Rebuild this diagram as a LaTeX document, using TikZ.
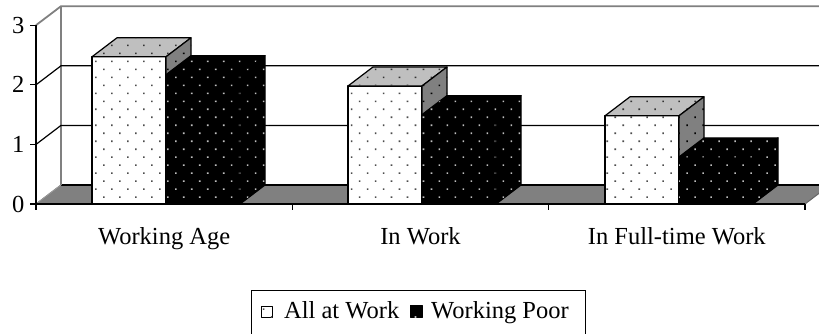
\documentclass[tikz,border=0pt]{standalone}
\usepackage{fontspec}
\setmainfont{Liberation Serif}
\usetikzlibrary{patterns.meta}

\newcommand{\unitv}{59.6}
\newcommand{\barw}{74}
% one 3d bar: x, value, front, top, side
\newcommand{\barbox}[5]{%
  \filldraw[#3] (#1,0) rectangle ++(\barw,#2*\unitv);
  \filldraw[#4] (#1,#2*\unitv) -- ++(\barw,0) -- ++(25,19) -- ++(-\barw,0) -- cycle;
  \filldraw[#5] (#1+\barw,0) -- ++(25,19) -- ++(0,#2*\unitv) -- ++(-25,-19) -- cycle;
}

\tikzset{
  dotsfill/.style={postaction={pattern={Dots[distance=11.3pt,angle=45,radius=1.1pt]},pattern color=#1}},
  face/.style={draw=black,line width=1.2pt,line join=round},
  awfront/.style={face,fill=white,dotsfill=black!70},
  awtop/.style={face,fill=black!25,dotsfill=black!80},
  awside/.style={face,fill=black!50,dotsfill=black},
  wpface/.style={face,fill=black,dotsfill=black!25},
  axisline/.style={line width=1.2pt},
  gridline/.style={line width=1.2pt},
}

\begin{document}
\begin{tikzpicture}[x=1pt,y=1pt,font=\fontsize{24.5}{28}\selectfont]
  \useasboundingbox (-36,-129) rectangle (783,204);
  \clip (-36,-129) rectangle (783,204);

  % Floor
  \filldraw[fill=black!50,draw=black!60,line width=1pt] (0,0) -- (769,0) -- (794,19) -- (25,19) -- cycle;
  \draw[gridline] (25,19) -- (800,19);
  \draw[black!40,line width=1pt] (0,0) -- (25,19);

  % Walls and grid lines
  \draw[gray,line width=1.5pt] (25,19) -- (25,3*\unitv+19);
  \foreach \v in {1,2} {
    \draw[gridline] (0,\v*\unitv) -- (25,\v*\unitv+19) -- (800,\v*\unitv+19);
  }
  \draw[gray,line width=1.8pt] (0,3*\unitv) -- (25,3*\unitv+19) -- (800,3*\unitv+19);

  % All at Work
  \foreach \x/\v in {56/2.47, 312/1.98, 569/1.48} {
    \barbox{\x}{\v}{awfront}{awtop}{awside}
  }
  % Working Poor
  \foreach \x/\v in {130/2.17, 386/1.50, 643/0.79} {
    \barbox{\x}{\v}{wpface}{wpface}{wpface}
  }

  % Axes and ticks
  \draw[axisline] (0,0) -- (0,3*\unitv);
  \foreach \v in {0,...,3} {
    \draw[axisline] (0,\v*\unitv) -- (-6,\v*\unitv) node[left=5pt,inner sep=0pt] (y\v) {\v};
  }
  \draw[axisline] (0,0) -- (769,0);
  \foreach \i in {0,...,3} {
    \draw[axisline] (\i*256.33,0) -- (\i*256.33,-6);
  }

  % Category labels
  \node[anchor=base,inner sep=0pt] (cat1) at (128.2,-40) {Working Age};
  \node[anchor=base,inner sep=0pt] (cat2) at (384.5,-40) {In Work};
  \node[anchor=base,inner sep=0pt] (cat3) at (640.8,-40) {In Full-time Work};

  % Legend
  \draw[line width=1pt] (215,-141) rectangle (549,-86);
  \filldraw[awfront,line width=.8pt] (225,-113) rectangle ++(11,11);
  \node[anchor=base west,inner sep=0pt] (lg1) at (248,-114) {All at Work};
  \filldraw[wpface,line width=.8pt] (374,-113) rectangle ++(12,12);
  \node[anchor=base west,inner sep=0pt] (lg2) at (395,-114) {Working Poor};
\end{tikzpicture}
\end{document}
